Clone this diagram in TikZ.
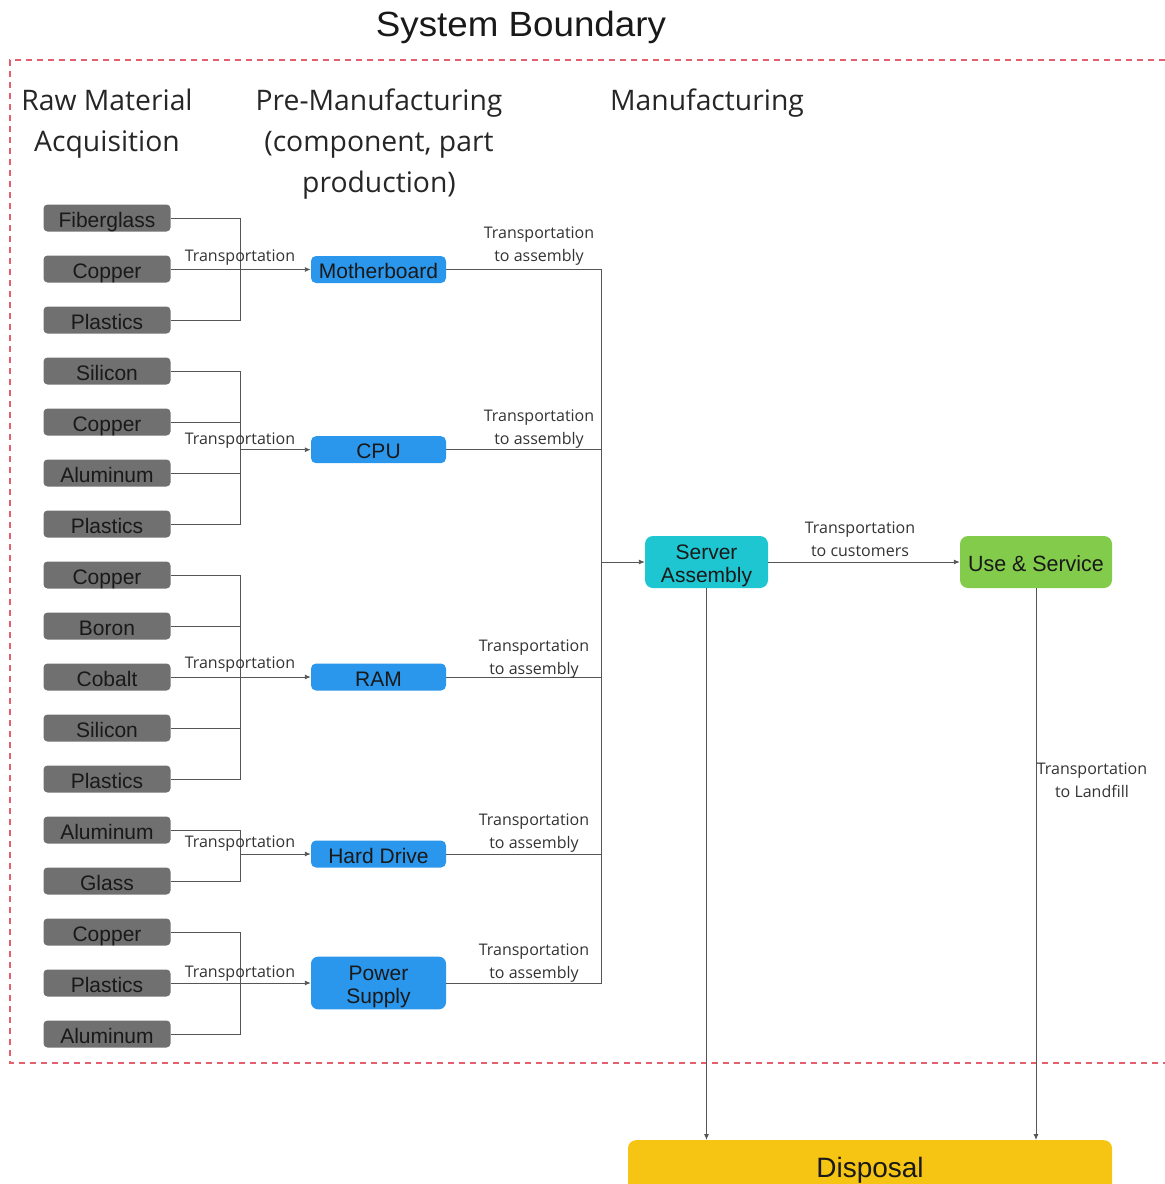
\documentclass[tikz,border=0pt]{standalone}
\usepackage{fontspec}
\usepackage{graphicx}
\setmainfont{Liberation Sans}
\newfontfamily\osans{Open Sans}
\usetikzlibrary{arrows.meta}
\definecolor{matgray}{HTML}{707070}
\definecolor{partblue}{HTML}{2A96EC}
\definecolor{srvcyan}{HTML}{1EC6D2}
\definecolor{usegreen}{HTML}{82CB4B}
\definecolor{dispyellow}{HTML}{F6C514}
\definecolor{bndred}{HTML}{E5606E}
\definecolor{linegray}{HTML}{555555}
\tikzset{
  x=1pt, y=-1pt,
  boxfont/.style={font=\fontsize{21}{23}\selectfont, text=black!90, inner sep=0pt},
  matbox/.style={boxfont, fill=matgray, rounded corners=4pt, minimum width=127pt, minimum height=27pt, text height=19pt, text depth=0pt},
  partbox/.style={boxfont, fill=partblue, rounded corners=5pt, minimum width=135pt, minimum height=27pt, text height=18.5pt, text depth=0.5pt},
  bigbox/.style={boxfont, font=\fontsize{21}{22.5}\selectfont, align=center, rounded corners=8pt, minimum height=52pt},
  conn/.style={draw=linegray, line width=0.9pt},
  arr/.style={conn, -{Latex[length=6pt,width=5pt]}},
  lbl/.style={font=\osans\fontsize{16}{23}\selectfont, text=black!80, inner sep=0pt, align=center},
  hdr/.style={font=\osans\fontsize{28.3}{41}\selectfont, text=black!85, inner sep=0pt, align=center},
}
\newcommand{\firstline}{\rule{0pt}{22.5pt}}
\begin{document}
\begin{tikzpicture}
\useasboundingbox (0,0) rectangle (1165,1184);
% title and boundary
\node[font=\fontsize{35}{40}\selectfont, text=black!90, inner sep=0pt, anchor=base] (title) at (521,36.7) {\scalebox{1.05}[1]{System Boundary}};
\draw[bndred, dashed, line width=1.2pt, dash pattern=on 6pt off 5pt] (1165,60) -- (10,60) -- (10,1063) -- (1165,1063);
% headers
\node[hdr] (h1) at (107,124) {Raw Material\\Acquisition};
\node[hdr] (h2) at (379,144) {Pre-Manufacturing\\(component, part\\production)};
\node[hdr] (h3) at (707,103) {Manufacturing};
% materials
\node[matbox] (m1) at (107,218) {Fiberglass};
\node[matbox] (m2) at (107,269) {Copper};
\node[matbox] (m3) at (107,320) {Plastics};
\node[matbox] (m4) at (107,371) {Silicon};
\node[matbox] (m5) at (107,422) {Copper};
\node[matbox] (m6) at (107,473) {Aluminum};
\node[matbox] (m7) at (107,524) {Plastics};
\node[matbox] (m8) at (107,575) {Copper};
\node[matbox] (m9) at (107,626) {Boron};
\node[matbox] (m10) at (107,677) {Cobalt};
\node[matbox] (m11) at (107,728) {Silicon};
\node[matbox] (m12) at (107,779) {Plastics};
\node[matbox] (m13) at (107,830) {Aluminum};
\node[matbox] (m14) at (107,881) {Glass};
\node[matbox] (m15) at (107,932) {Copper};
\node[matbox] (m16) at (107,983) {Plastics};
\node[matbox] (m17) at (107,1034) {Aluminum};
% parts
\node[partbox] (mb) at (378.5,269.5) {Motherboard};
\node[partbox] (cpu) at (378.5,449.7) {CPU};
\node[partbox] (ram) at (378.5,677) {RAM};
\node[partbox] (hd) at (378.5,854) {Hard Drive};
\node[bigbox, fill=partblue, minimum width=135pt, minimum height=52.6pt, rounded corners=7pt] (ps) at (378.5,983) {\firstline Power\\Supply};
% manufacturing etc
\node[bigbox, fill=srvcyan, minimum width=123pt] (sa) at (706.5,562) {\firstline Server\\Assembly};
\node[boxfont, fill=usegreen, rounded corners=8pt, minimum width=152pt, minimum height=52pt, text height=19pt, text depth=0pt] (us) at (1036,562) {\scalebox{1.02}[1.05]{Use \& Service}};
\begin{scope}
\clip (0,0) rectangle (1165,1184);
\node[fill=dispyellow, rounded corners=8pt, minimum width=484pt, minimum height=60pt, anchor=north, inner sep=0pt] (dis) at (870,1140) {};
\node[boxfont, font=\fontsize{28}{30}\selectfont, anchor=base] (distext) at (870,1177.7) {Disposal};
\end{scope}
% bus coordinates
\coordinate (b1) at (240,269.5);
\coordinate (b2) at (240,449.7);
\coordinate (b3) at (240,677);
\coordinate (b4) at (240,854);
\coordinate (b5) at (240,983);
\coordinate (j) at (601,562);
% material -> bus
\foreach \m in {m1,m2,m3} \draw[conn] (\m.east) -| (b1);
\foreach \m in {m4,m5,m6,m7} \draw[conn] (\m.east) -| (b2);
\foreach \m in {m8,m9,m10,m11,m12} \draw[conn] (\m.east) -| (b3);
\foreach \m in {m13,m14} \draw[conn] (\m.east) -| (b4);
\foreach \m in {m15,m16,m17} \draw[conn] (\m.east) -| (b5);
% bus -> parts
\draw[arr] (b1) -- (mb.west);
\draw[arr] (b2) -- (cpu.west);
\draw[arr] (b3) -- (ram.west);
\draw[arr] (b4) -- (hd.west);
\draw[arr] (b5) -- (ps.west);
\foreach \y [count=\i] in {258,441,665,844,974}
  \node[lbl] (tl\i) at (240,\y) {Transportation};
% parts -> assembly
\foreach \p in {mb,cpu,ram,hd,ps} \draw[conn] (\p.east) -| (j);
\draw[arr] (j) -- (sa.west);
\node[lbl] (ta1) at (539,246) {Transportation\\to assembly};
\node[lbl] (ta2) at (539,429) {Transportation\\to assembly};
\node[lbl] (ta3) at (534,659) {Transportation\\to assembly};
\node[lbl] (ta4) at (534,833) {Transportation\\to assembly};
\node[lbl] (ta5) at (534,963) {Transportation\\to assembly};
% assembly -> use
\draw[arr] (sa.east) -- (us.west);
\node[lbl] (tc) at (860,539) {Transportation\\to customers};
% to disposal
\draw[arr] (sa.south) -- (sa.south |- dis.north);
\draw[arr] (us.south) -- (us.south |- dis.north);
\node[lbl] (tf) at (1092,780) {Transportation\\to Landfill};
\end{tikzpicture}
\end{document}
